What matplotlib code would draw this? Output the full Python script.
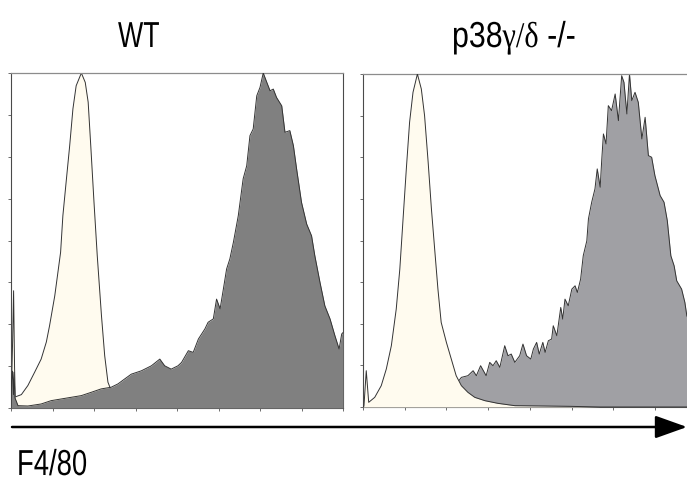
"""F4/80 flow cytometry overlays: WT vs p38gamma/delta -/- macrophages."""

import matplotlib
matplotlib.use("Agg")
import matplotlib.pyplot as plt
from matplotlib import patheffects
from matplotlib.patches import FancyArrowPatch
from matplotlib.transforms import Affine2D


# HISTOGRAM DATA (channel 0-1024, % of mode)

# WT panel: isotype control (cream) and F4/80 stain (dark gray)
wt_ctrl_ch = [0, 5, 8, 11, 13, 32, 52, 73, 93, 109, 119, 135, 153, 160, 171,
              181, 191, 201, 217, 229, 238, 246, 256, 266, 279, 289, 299,
              312, 336, 367, 413, 490, 1024]
wt_ctrl_pct = [0, 20, 35, 12, 3.3, 4, 6.7, 10.7, 14.6, 19.7, 24.6, 33.5, 46.5,
               57.4, 68.4, 78.3, 89.3, 96.2, 100, 97.2, 91.3, 78.3, 61.4, 45.5,
               27.6, 15.6, 7.7, 4.5, 2.5, 1.2, 0.5, 0, 0]

wt_f480_ch = [0, 1.5, 4.6, 7.7, 9.3, 12.3, 21.6, 52, 93, 124, 155, 186, 217,
              248, 278, 309, 330, 351, 371, 402, 433, 459, 474, 494, 515, 526,
              547, 562, 578, 598, 608, 624, 634, 645, 655, 665, 675, 686, 701,
              716, 727, 737, 747, 758, 768, 778, 789, 799, 809, 819, 835, 845,
              860, 871, 881, 896, 912, 927, 937, 953, 968, 984, 999, 1012,
              1020, 1024]
wt_f480_pct = [0, 8, 11, 4, 10.7, 3, 0.7, 0.6, 1.2, 2.2, 2.7, 3.2, 3.7, 4.7,
               5.7, 6.2, 7.2, 8.7, 10.1, 11.1, 12.6, 14.6, 12.6, 11.6, 12.6,
               13.6, 17.1, 16.6, 20.6, 23.6, 25.6, 26.6, 32.5, 29.6, 35.5,
               41.5, 44.5, 49.5, 57.4, 68.4, 72.3, 81.3, 83.3, 93.2, 95.7, 100,
               97.2, 94.7, 95.2, 92.7, 90.2, 82.3, 82.8, 78.3, 71.3, 61.4, 54.9,
               51.4, 45.5, 37.5, 30.5, 26.6, 21.6, 17.6, 22.1, 22.5]

# p38gamma/delta -/- panel
ko_ctrl_ch = [0, 3, 10, 17.5, 36, 56, 71.5, 87, 102, 113, 123, 133, 143, 153.5,
              167, 179, 189, 200, 210, 220, 230, 240, 256, 271, 286, 302, 322,
              343, 374, 414, 466, 559, 636, 728, 1024]
ko_ctrl_pct = [0, 0.4, 10.9, 1.4, 2.9, 6.4, 11.4, 18.4, 29.4, 41.4, 56.5, 71.5,
               85.5, 94.5, 100, 95.5, 87.5, 73.5, 59.5, 47.4, 35.4, 25.4, 19.4,
               14.4, 9.4, 6.4, 4.4, 2.9, 1.9, 1.1, 0.4, 0.3, 0.2, 0, 0]

ko_f480_ch = [0, 40, 100, 150, 200, 250, 295, 302, 322, 338, 348, 361, 378,
              389, 399, 409, 420, 435, 445, 455, 466, 481, 491, 502, 515, 523,
              533, 541, 552, 559, 569, 579, 584, 595, 607, 613, 620, 630, 641,
              651, 658, 668, 676, 687, 692, 702, 712, 719, 728, 733, 738, 746,
              753, 763, 774, 784, 794, 801, 810, 818, 825, 835, 845, 856, 866,
              876, 886, 896, 912, 924, 934, 945, 955, 963, 978, 988, 994, 1010,
              1024]
ko_f480_pct = [0, 1, 2.5, 3.5, 5, 6.5, 8, 8.9, 9.4, 10.9, 9.4, 12.4, 9.4, 13.4,
               12.4, 13.9, 11.9, 18.4, 15.4, 15.9, 13.4, 15.4, 18.9, 15.4, 14.4,
               17.4, 19.4, 15.9, 19.4, 16.4, 19.9, 20.4, 24.4, 21.4, 29.9, 26.4,
               32.4, 30.4, 35.4, 36.4, 34.4, 38.4, 45.4, 49.9, 56.5, 61.5, 65.5,
               71.5, 66, 74.5, 82, 79, 90.5, 89, 94, 86, 99.5, 97.5, 88, 100, 92,
               94.5, 91.5, 80.5, 87, 75.5, 75, 69.5, 63.5, 61.5, 56, 45.4, 42.4,
               37.9, 35.4, 31.4, 27.4, 24, 20]

titles = ["WT", ["p38", "\u03b3/\u03b4", " -/-"]]
axis_label = "F4/80"

# STYLE

CREAM = "#fffbef"
WT_GRAY = "#808080"
KO_GRAY = "#a0a0a4"
EDGE = "#333333"
SANS = "Liberation Sans"
SERIF = "Liberation Serif"
SQUEEZE = 0.8  # narrow lettering

W, H = 687, 481


class Condense(patheffects.AbstractPathEffect):
    """Squeeze glyphs horizontally about a fixed figure x position."""

    def __init__(self, fig, x0, sx):
        super().__init__()
        self.fig, self.x0, self.sx = fig, x0, sx

    def draw_path(self, renderer, gc, tpath, affine, rgbFace=None):
        x0 = self.fig.transFigure.transform((self.x0, 0))[0]
        squeeze = Affine2D().translate(-x0, 0).scale(self.sx, 1).translate(x0, 0)
        renderer.draw_path(gc, tpath, affine + squeeze, rgbFace)


def narrow_text(fig, x, y, s, family, size, sx=SQUEEZE):
    return fig.text(x, y, s, family=family, fontsize=size, ha="left",
                    va="baseline", path_effects=[Condense(fig, x, sx)])


def style_axes(ax):
    ax.set_xlim(0, 1024)
    ax.set_ylim(0, 100)
    ax.set_xticks(range(0, 1025, 128))
    ax.set_yticks([i * 12.5 for i in range(9)])
    ax.set_xticklabels([])
    ax.set_yticklabels([])
    ax.tick_params(length=2.2, width=0.6, color="#555555", direction="out")
    for side in ("left", "bottom", "right"):
        ax.spines[side].set_color("#4a4a4a")
        ax.spines[side].set_linewidth(0.8)
    ax.spines["top"].set_color("#8c8c8c")
    ax.spines["top"].set_linewidth(0.9)


def overlay(ax, ch, pct, color, z):
    ax.fill_between(ch, 0, pct, color=color, lw=0, zorder=z)
    ax.plot(ch, pct, color=EDGE, lw=0.7, zorder=z + 0.5)


fig = plt.figure(figsize=(W / 100, H / 100), dpi=100)

ax_wt = fig.add_axes([11 / W, 72 / H, 332 / W, 335 / H])
ax_ko = fig.add_axes([363 / W, 73 / H, 333.6 / W, 333 / H])

# WT: stain drawn over the control
overlay(ax_wt, wt_ctrl_ch, wt_ctrl_pct, CREAM, 2)
overlay(ax_wt, wt_f480_ch, wt_f480_pct, WT_GRAY, 3)
# KO: control drawn over the stain
overlay(ax_ko, ko_f480_ch, ko_f480_pct, KO_GRAY, 2)
overlay(ax_ko, ko_ctrl_ch, ko_ctrl_pct, CREAM, 3)

for ax in (ax_wt, ax_ko):
    style_axes(ax)

# panel titles
base_y = 1 - 48 / H
narrow_text(fig, 118 / W, base_y, titles[0], SANS, 26, sx=0.74)

fig.canvas.draw()
renderer = fig.canvas.get_renderer()
start = 452 / W
x = start
for part, fam in zip(titles[1], [SANS, SERIF, SANS]):
    t = fig.text(x, base_y, part, family=fam, fontsize=26, ha="left",
                 va="baseline")
    bb = t.get_window_extent(renderer=renderer)
    t.set_path_effects([Condense(fig, start, 0.84)])
    x = bb.x1 / fig.bbox.width

# axis arrow and label
arrow_y = 1 - 428 / H
fig.add_artist(FancyArrowPatch((12 / W, arrow_y), (1.0, arrow_y),
                               transform=fig.transFigure,
                               arrowstyle="-|>,head_length=1.4,head_width=0.5",
                               mutation_scale=14, lw=1.8, color="black",
                               shrinkA=0, shrinkB=0))
narrow_text(fig, 17 / W, 1 - 476 / H, axis_label, SANS, 26, sx=0.76)

fig.savefig("out.png", dpi=100)
